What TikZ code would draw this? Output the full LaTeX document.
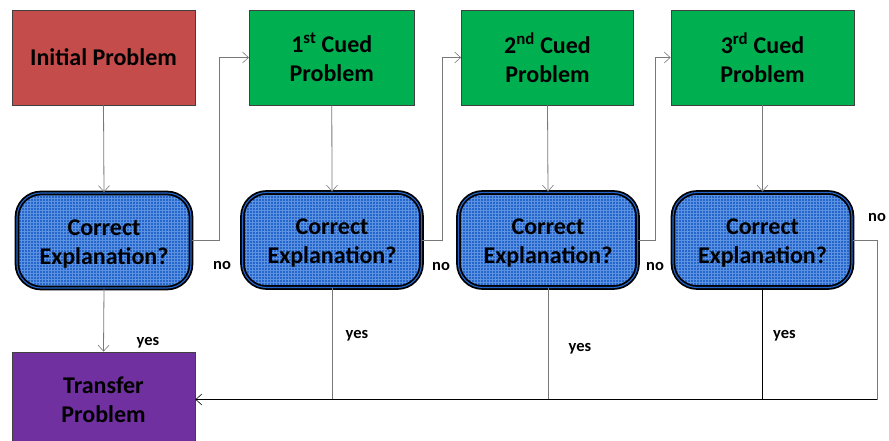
\documentclass[tikz,border=0pt]{standalone}
\usepackage{fontspec}
\setmainfont{Carlito}
\usetikzlibrary{patterns,arrows.meta}
\definecolor{myred}{RGB}{196,76,74}
\definecolor{mygreen}{RGB}{0,176,80}
\definecolor{mypurple}{RGB}{112,48,160}
\definecolor{myblue}{RGB}{36,102,204}
\definecolor{mygrid}{RGB}{92,146,224}
\definecolor{myline}{RGB}{120,120,120}
\newcommand{\decstrut}{\rule{0pt}{22pt}}

\tikzset{
    probbox/.style={draw=black!75, line width=0.8pt, minimum height=95pt, inner sep=0pt,
        align=center, font=\bfseries\fontsize{24}{29}\selectfont},
    decbox/.style={draw=black, line width=1.8pt, double=myblue, double distance=1.1pt,
        rounded corners=24pt, preaction={fill=myblue}, pattern=grid, pattern color=mygrid,
        minimum height=95pt, inner sep=0pt, align=center,
        font=\bfseries\fontsize{24}{29}\selectfont},
    conn/.style={draw=myline, line width=0.8pt},
    arr/.style={conn, -{Straight Barb[length=6pt, width=11pt, line width=0.6pt]}},
    lbl/.style={font=\bfseries\fontsize{16.5}{18}\selectfont, inner sep=0pt}
}

\begin{document}
\begin{tikzpicture}[x=1pt, y=-1pt]
    \clip (0,0) rectangle (889,441);
    % Problems
    \node[probbox, fill=myred, minimum width=183pt] (ip) at (103.5, 57.5) {Initial Problem};
    \node[probbox, fill=mygreen, minimum width=165pt] (c1) at (331.8, 57.5) {1\textsuperscript{st} Cued\\Problem};
    \node[probbox, fill=mygreen, minimum width=172pt] (c2) at (547.5, 57.5) {2\textsuperscript{nd} Cued\\Problem};
    \node[probbox, fill=mygreen, minimum width=183pt] (c3) at (762.5, 57.5) {3\textsuperscript{rd} Cued\\Problem};
    \node[probbox, fill=mypurple, minimum width=183pt] (tp) at (103.5, 399.5) {Transfer\\Problem};
    % Decisions
    \node[decbox, minimum width=174pt] (d1) at (104, 240.5) {\decstrut Correct\\Explanation?};
    \node[decbox, minimum width=179pt] (d2) at (332, 240) {\decstrut Correct\\Explanation?};
    \node[decbox, minimum width=179pt] (d3) at (548, 240) {\decstrut Correct\\Explanation?};
    \node[decbox, minimum width=179pt] (d4) at (762.5, 240) {\decstrut Correct\\Explanation?};
    % down arrows
    \draw[arr] (ip.south) -- (d1.north);
    \draw[arr] (c1.south) -- (d2.north);
    \draw[arr] (c2.south) -- (d3.north);
    \draw[arr] (c3.south) -- (d4.north);
    % no branches
    \draw[arr] (d1.east) -- ++(27, 0) |- (c1.west);
    \draw[arr] (d2.east) -- ++(20, 0) |- (c2.west);
    \draw[arr] (d3.east) -- ++(17, 0) |- (c3.west);
    \coordinate (noend) at (877, 399.5);
    \draw[conn] (d4.east) -| (noend);
    % yes branches
    \draw[arr] (d1.south) -- (tp.north);
    \draw[conn] (d2.south) -- (d2.south |- noend);
    \draw[conn] (d3.south) -- (d3.south |- noend);
    \draw[conn, draw=black] (d4.south) -- (d4.south |- noend);
    \draw[arr, draw=black] (noend) -- (tp.east);
    % Labels
    \node[lbl] (no1) at (222, 265) {no};
    \node[lbl] (no2) at (441, 266) {no};
    \node[lbl] (no3) at (655, 266) {no};
    \node[lbl] (no4) at (877, 217) {no};
    \node[lbl] (yes1) at (148, 343) {yes};
    \node[lbl] (yes2) at (357, 336) {yes};
    \node[lbl] (yes3) at (580, 349) {yes};
    \node[lbl] (yes4) at (784.5, 336) {yes};
\end{tikzpicture}
\end{document}
